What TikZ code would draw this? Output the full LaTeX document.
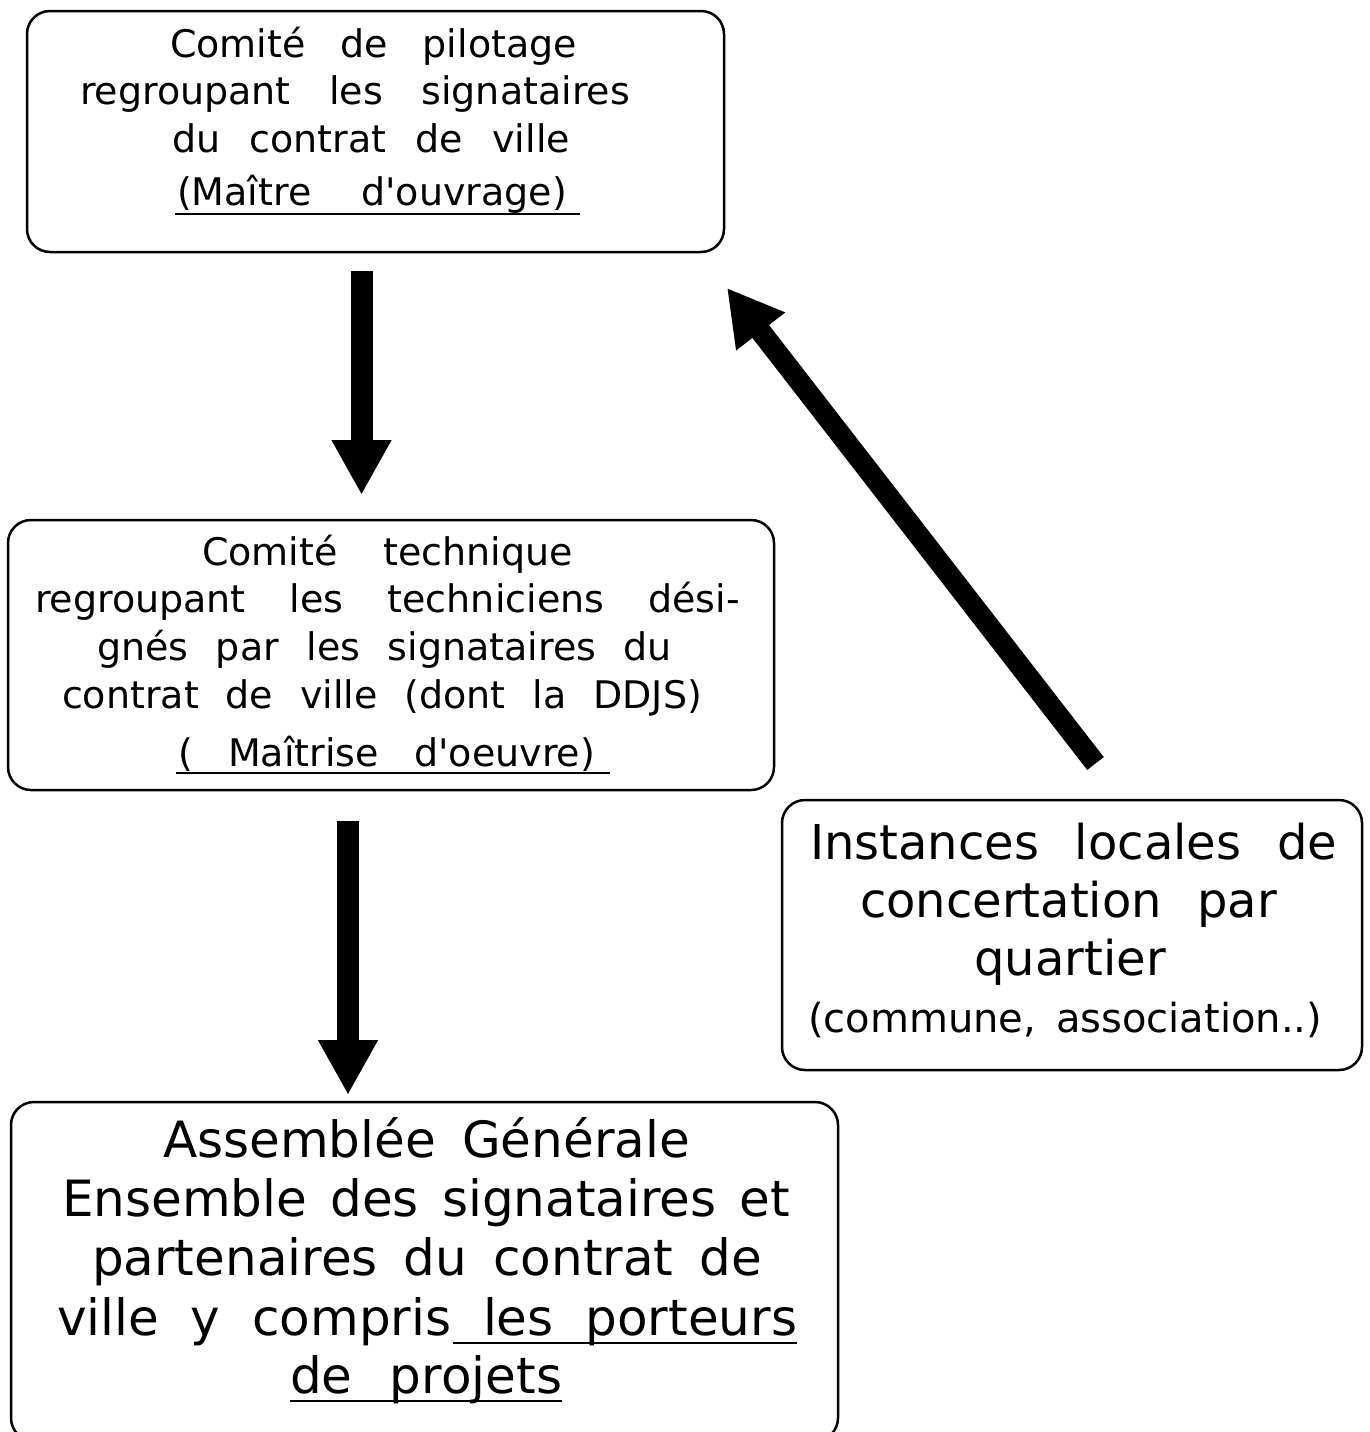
\documentclass[tikz,border=0pt]{standalone}
\usepackage{fontspec}
\setmainfont{DejaVu Sans}[Ligatures=TeXOff]
\usetikzlibrary{arrows.meta}
\tikzset{
  box/.style={draw=black, line width=2.5pt, rounded corners=23pt, fill=white},
  txt/.style={inner sep=0pt, outer sep=0pt, anchor=base},
  smalltxt/.style={txt, font=\fontsize{38}{44}\selectfont},
  paren/.style={txt, font=\fontsize{40}{46}\selectfont},
  midtxt/.style={txt, font=\fontsize{48}{56}\selectfont},
  bigtxt/.style={txt, font=\fontsize{50}{58}\selectfont},
  uline/.style={line width=2pt},
  bigarrow/.style={line width=22pt, -{Triangle[length=55pt, width=56pt]}}
}
\newcommand{\spread}[2]{\makebox[#1pt][s]{#2}}
\begin{document}
\begin{tikzpicture}[x=1pt, y=-1pt]
\useasboundingbox (0,0) rectangle (1369,1432);
\clip (0,0) rectangle (1369,1432);
\fill[white] (0,0) rectangle (1369,1432);

% boxes
\draw[box] (27,11) rectangle (724,252);
\node[inner sep=0pt] (box1) at (375.5,131.5) {};
\draw[box] (8,520) rectangle (774,790);
\node[inner sep=0pt] (box2) at (391,655) {};
\draw[box] (782,800) rectangle (1362,1070);
\node[inner sep=0pt] (box3) at (1072,935) {};
\draw[box] (11,1102) rectangle (838,1441);
\node[inner sep=0pt] (box4) at (424.5,1271) {};

% box 1 text
\node[smalltxt] (b1a) at (373.5,57) {\spread{407}{Comité de pilotage}};
\node[smalltxt] (b1b) at (355,104) {\spread{550}{regroupant les signataires}};
\node[smalltxt] (b1c) at (371,152) {\spread{398}{du contrat de ville}};
\node[smalltxt] (b1d) at (372,205) {\spread{390}{(Maître d'ouvrage)}};
\coordinate (u1a) at (175,214);
\coordinate (u1b) at (580,214);
\draw[uline] (u1a) -- (u1b);

% box 2 text
\node[smalltxt] (b2a) at (387.5,565) {\spread{371}{Comité technique}};
\node[smalltxt] (b2b) at (387.5,612) {\spread{705}{regroupant les techniciens dési-}};
\node[smalltxt] (b2c) at (384.5,660) {\spread{575}{gnés par les signataires du}};
\node[smalltxt] (b2d) at (382,708) {\spread{640}{contrat de ville (dont la DDJS)}};
\node[smalltxt] (b2e) at (386.5,766) {\spread{417}{( Maîtrise d'oeuvre)}};
\coordinate (u2a) at (176,773);
\coordinate (u2b) at (610,773);
\draw[uline] (u2a) -- (u2b);

% box 3 text
\node[midtxt] (b3a) at (1073.5,859) {\spread{527}{Instances locales de}};
\node[midtxt] (b3b) at (1068.5,917) {\spread{417}{concertation par}};
\node[midtxt] (b3c) at (1070,975) {quartier};
\node[paren] (b3d) at (1065,1032) {\spread{514}{(commune, association..)}};

% box 4 text
\node[bigtxt] (b4a) at (426.5,1157) {\spread{527}{Assemblée Générale}};
\node[bigtxt] (b4b) at (426,1216) {\spread{728}{Ensemble des signataires et}};
\node[bigtxt] (b4c) at (427,1275) {\spread{670}{partenaires du contrat de}};
\node[bigtxt] (b4d) at (427,1335) {\spread{740}{ville y compris les porteurs}};
\coordinate (u4a) at (453,1343);
\coordinate (u4b) at (797,1343);
\draw[uline] (u4a) -- (u4b);
\node[bigtxt] (b4e) at (426,1393) {\spread{272}{de projets}};
\coordinate (u4c) at (290,1401);
\coordinate (u4d) at (562,1401);
\draw[uline] (u4c) -- (u4d);

% arrows
\coordinate (a1s) at (361.5,271);
\coordinate (a1e) at (361.5,495);
\draw[bigarrow] (a1s) -- (a1e);
\coordinate (a2s) at (348,821);
\coordinate (a2e) at (348,1095);
\draw[bigarrow] (a2s) -- (a2e);
\coordinate (a3s) at (1095.5,763.5);
\coordinate (a3e) at (727,288);
\draw[line width=21pt, -{Triangle[length=55pt, width=58pt]}] (a3s) -- (a3e);
\end{tikzpicture}
\end{document}
